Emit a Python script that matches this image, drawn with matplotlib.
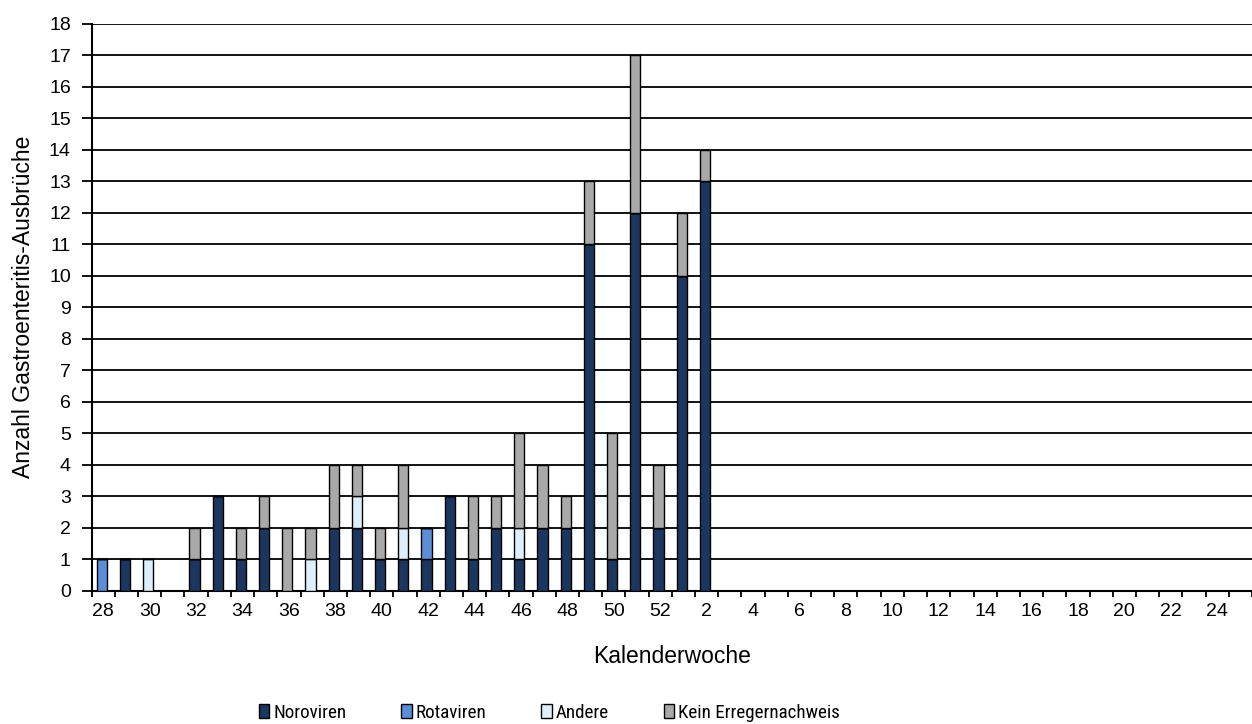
import matplotlib
matplotlib.use("Agg")
import matplotlib.pyplot as plt
from matplotlib import font_manager
import numpy as np

plt.rcParams['font.family'] = ['Liberation Sans', 'DejaVu Sans']

weeks = list(range(28, 53)) + list(range(1, 26))
noroviren = [0, 1, 0, 0, 1, 3, 1, 2, 0, 0, 2, 2, 1, 1, 1, 3, 1, 2, 1, 2, 2, 11, 1, 12, 2, 10, 13] + [0] * 23
rotaviren = [1, 0, 0, 0, 0, 0, 0, 0, 0, 0, 0, 0, 0, 0, 1, 0, 0, 0, 0, 0, 0, 0, 0, 0, 0, 0, 0] + [0] * 23
andere = [0, 0, 1, 0, 0, 0, 0, 0, 0, 1, 0, 1, 0, 1, 0, 0, 0, 0, 1, 0, 0, 0, 0, 0, 0, 0, 0] + [0] * 23
kein = [0, 0, 0, 0, 1, 0, 1, 1, 2, 1, 2, 1, 1, 2, 0, 0, 2, 1, 3, 2, 1, 2, 4, 5, 2, 2, 1] + [0] * 23

series = [("Noroviren", noroviren, "#1B365F"),
          ("Rotaviren", rotaviren, "#5B8ED6"),
          ("Andere", andere, "#DDEEFC"),
          ("Kein Erregernachweis", kein, "#A9A9A9")]

fig = plt.figure(figsize=(12.52, 7.24), dpi=100)
ax = fig.add_axes([0.0732, 0.1841, 0.9268, 0.7832])

x = np.arange(len(weeks))
bottom = np.zeros(len(weeks))
handles = []
for name, vals, col in series:
    v = np.array(vals, dtype=float)
    b = ax.bar(x - 0.07, v, width=0.44, bottom=bottom, color=col,
               edgecolor="black", linewidth=1.0, label=name, zorder=3)
    bottom += v
    handles.append(b)

ax.set_ylim(0, 18)
ax.set_xlim(-0.5, 49.08)
ax.set_yticks(range(0, 19))
ax.yaxis.grid(True, color="black", linewidth=1.3, zorder=0)
ax.set_axisbelow(True)
for s in ["top", "right"]:
    ax.spines[s].set_visible(False)
for s in ["left", "bottom"]:
    ax.spines[s].set_linewidth(1.5)

ax.set_xticks(np.arange(len(weeks) + 1) - 0.5)
ax.set_xticklabels([])
ax.tick_params(axis="x", which="major", length=4, width=1.3, direction="out")
ax.set_xticks(x[::2], minor=True)
ax.set_xticklabels([str(w) for w in weeks[::2]], minor=True, fontsize=14)
ax.tick_params(axis="x", which="minor", length=0, pad=9)
ax.tick_params(axis="y", length=7, width=1.3, labelsize=14, pad=8)

ax.set_xlabel("Kalenderwoche", fontsize=16.5, labelpad=18)
ax.set_ylabel("Anzahl Gastroenteritis-Ausbrüche", fontsize=16.5, labelpad=10)

# pick a narrow family if one is installed
avail = {f.name for f in font_manager.fontManager.ttflist}
narrow = None
for cand in ["Liberation Sans Narrow", "DejaVu Sans Condensed", "Roboto Condensed", "Open Sans Condensed"]:
    if cand in avail:
        narrow = cand
        break
if narrow:
    lsize = 13.7
    prop = {'family': [narrow, 'Liberation Sans'], 'size': lsize}
else:
    lsize = 12
    prop = {'family': ['Liberation Sans'], 'size': lsize}
gap_px = 55
colsp = gap_px / (lsize * 100 / 72)

leg = fig.legend(handles=handles, loc="lower left", bbox_to_anchor=(259 / 1252, 0.003),
                 ncol=4, frameon=False, handlelength=0.55, handleheight=0.8,
                 handletextpad=0.2, columnspacing=colsp, borderpad=0, borderaxespad=0,
                 prop=prop)

fig.savefig("out.png", dpi=100)
